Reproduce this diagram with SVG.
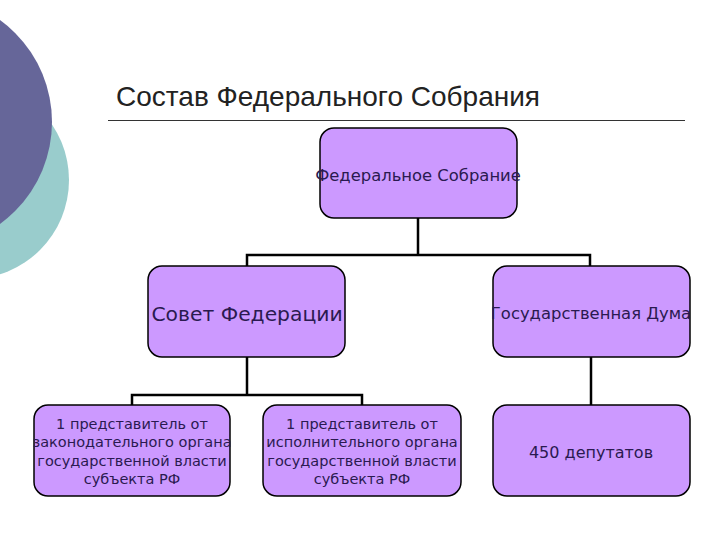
<svg xmlns="http://www.w3.org/2000/svg" width="720" height="540" viewBox="0 0 720 540">
<style>
.box{fill:#cc99ff;stroke:#000;stroke-width:1.5}
.t{font-family:"DejaVu Sans",Verdana,sans-serif;text-anchor:middle;fill:#2a1a50}
.c{fill:none;stroke:#000;stroke-width:2.5}
</style>
<rect width="720" height="540" fill="#fff"/>
<circle cx="-30" cy="180" r="99" fill="#99cccc"/>
<circle cx="-74" cy="122" r="126" fill="#666699"/>
<text x="116" y="106" font-family="'Liberation Sans',Arial,sans-serif" font-size="28" fill="#222">Состав Федерального Собрания</text>
<line x1="108" y1="120.5" x2="685" y2="120.5" stroke="#333" stroke-width="1"/>
<g id="connectors">
<path class="c" d="M418 218V255M247 267V255H590V267"/>
<path class="c" d="M247 357V395M132 405V395H362V405"/>
<path class="c" d="M591 357V405"/>
</g>
<g id="n-fs"><rect class="box" x="320" y="128" width="197" height="90" rx="14"/><text class="t" x="418" y="181" font-size="16.4">Федеральное Собрание</text></g>
<g id="n-sf"><rect class="box" x="148" y="266" width="197" height="91" rx="14"/><text class="t" x="247" y="321" font-size="20.3">Совет Федерации</text></g>
<g id="n-gd"><rect class="box" x="493" y="266" width="197" height="91" rx="14"/><text class="t" x="591" y="319" font-size="16.4">Государственная Дума</text></g>
<g id="n-z"><rect class="box" x="34" y="405" width="196" height="91" rx="14"/><text class="t" font-size="14.5"><tspan x="132" y="429">1 представитель от</tspan><tspan x="132" y="447">законодательного органа</tspan><tspan x="132" y="466">государственной власти</tspan><tspan x="132" y="484">субъекта РФ</tspan></text></g>
<g id="n-i"><rect class="box" x="263" y="405" width="198" height="91" rx="14"/><text class="t" font-size="14.5"><tspan x="362" y="429">1 представитель от</tspan><tspan x="362" y="447">исполнительного органа</tspan><tspan x="362" y="466">государственной власти</tspan><tspan x="362" y="484">субъекта РФ</tspan></text></g>
<g id="n-450"><rect class="box" x="493" y="405" width="197" height="91" rx="14"/><text class="t" x="591" y="458" font-size="16">450 депутатов</text></g>
</svg>
